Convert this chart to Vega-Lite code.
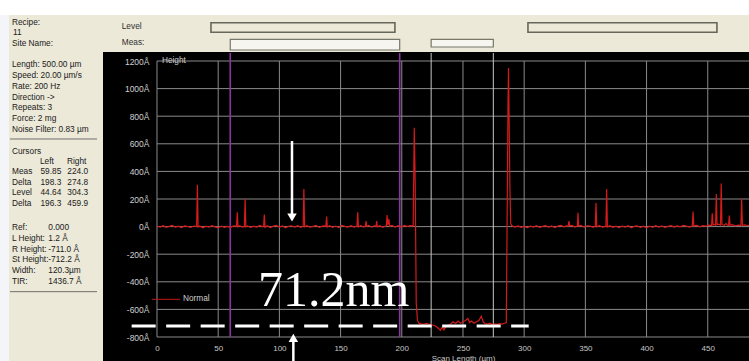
{
  "$schema": "https://vega.github.io/schema/vega-lite/v6.json",
  "background": "#000000",
  "padding": 0,
  "spacing": 0,
  "config": {"view": {"stroke": null}, "font": "Liberation Sans"},
  "datasets": {
    "panelText": [
      {"col": 3, "line": 0, "t": "Recipe:"},
      {"col": 4, "line": 1, "t": "11"},
      {"col": 3, "line": 2, "t": "Site Name:"},
      {"col": 3, "line": 4, "t": "Length: 500.00 µm"},
      {"col": 3, "line": 5, "t": "Speed: 20.00 µm/s"},
      {"col": 3, "line": 6, "t": "Rate: 200 Hz"},
      {"col": 3, "line": 7, "t": "Direction ->"},
      {"col": 3, "line": 8, "t": "Repeats: 3"},
      {"col": 3, "line": 9, "t": "Force: 2 mg"},
      {"col": 3, "line": 10, "t": "Noise Filter: 0.83 µm"},
      {"col": 3, "line": 12.05, "t": "Cursors"},
      {"col": 31, "line": 13.05, "t": "Left"},
      {"col": 58, "line": 13.05, "t": "Right"},
      {"col": 3, "line": 13.95, "t": "Meas"},
      {"col": 31.5, "line": 13.95, "t": "59.85"},
      {"col": 58.3, "line": 13.95, "t": "224.0"},
      {"col": 3, "line": 14.95, "t": "Delta"},
      {"col": 31.5, "line": 14.95, "t": "198.3"},
      {"col": 58.3, "line": 14.95, "t": "274.8"},
      {"col": 3, "line": 15.95, "t": "Level"},
      {"col": 31.5, "line": 15.95, "t": "44.64"},
      {"col": 58.3, "line": 15.95, "t": "304.3"},
      {"col": 3, "line": 16.95, "t": "Delta"},
      {"col": 31.5, "line": 16.95, "t": "196.3"},
      {"col": 58.3, "line": 16.95, "t": "459.9"},
      {"col": 3, "line": 19.2, "t": "Ref:"},
      {"col": 39.3, "line": 19.2, "t": "0.000"},
      {"col": 3, "line": 20.2, "t": "L Height:"},
      {"col": 39.3, "line": 20.2, "t": "1.2 Å"},
      {"col": 3, "line": 21.2, "t": "R Height:"},
      {"col": 39.3, "line": 21.2, "t": "-711.0 Å"},
      {"col": 3, "line": 22.2, "t": "St Height:"},
      {"col": 39.3, "line": 22.2, "t": "-712.2 Å"},
      {"col": 3, "line": 23.2, "t": "Width:"},
      {"col": 39.3, "line": 23.2, "t": "120.3µm"},
      {"col": 3, "line": 24.2, "t": "TIR:"},
      {"col": 39.3, "line": 24.2, "t": "1436.7 Å"}
    ],
    "panelRules": [
      {"col": 1, "col2": 88, "line": 10.87},
      {"col": 1, "col2": 88, "line": 25.14}
    ],
    "levelBoxes": [
      {"x": 44.1, "x2": 194.4, "y": 0.74, "y2": 1.321},
      {"x": 303.1, "x2": 457.5, "y": 0.74, "y2": 1.321}
    ],
    "measBoxes": [
      {"x": 59.85, "x2": 198.3, "y": 1.746, "y2": 2.394},
      {"x": 224.0, "x2": 274.8, "y": 1.746, "y2": 2.212}
    ],
    "stripLabels": [
      {"x": -28.8, "y": 1.0, "t": "Level"},
      {"x": -28.8, "y": 1.95, "t": "Meas:"}
    ],
    "hgrid": [
      {"x": 0, "x2": 483.7, "y": -800},
      {"x": 0, "x2": 483.7, "y": -600},
      {"x": 0, "x2": 483.7, "y": -400},
      {"x": 0, "x2": 483.7, "y": -200},
      {"x": 0, "x2": 483.7, "y": 0},
      {"x": 0, "x2": 483.7, "y": 200},
      {"x": 0, "x2": 483.7, "y": 400},
      {"x": 0, "x2": 483.7, "y": 600},
      {"x": 0, "x2": 483.7, "y": 800},
      {"x": 0, "x2": 483.7, "y": 1000},
      {"x": 0, "x2": 483.7, "y": 1200}
    ],
    "vgrid": [
      {"x": 0, "y": -800, "y2": 1200},
      {"x": 50, "y": -800, "y2": 1200},
      {"x": 100, "y": -800, "y2": 1200},
      {"x": 150, "y": -800, "y2": 1200},
      {"x": 200, "y": -800, "y2": 1200},
      {"x": 250, "y": -800, "y2": 1200},
      {"x": 300, "y": -800, "y2": 1200},
      {"x": 350, "y": -800, "y2": 1200},
      {"x": 400, "y": -800, "y2": 1200},
      {"x": 450, "y": -800, "y2": 1200}
    ],
    "levelCursors": [
      {"x": 224.0, "y": -800, "y2": 1258},
      {"x": 274.8, "y": -800, "y2": 1258}
    ],
    "measCursors": [
      {"x": 59.85, "y": -800, "y2": 1258},
      {"x": 198.3, "y": -800, "y2": 1258}
    ],
    "profile": [
      {"x": 0, "y": 4}, {"x": 2.5, "y": -3}, {"x": 5, "y": 6}, {"x": 7.5, "y": -5}, {"x": 10, "y": 2},
      {"x": 12.5, "y": 8}, {"x": 15, "y": -4}, {"x": 17.5, "y": 3}, {"x": 20, "y": -7}, {"x": 22.5, "y": 5},
      {"x": 25, "y": 1}, {"x": 27.5, "y": -6}, {"x": 30, "y": 4}, {"x": 32.4, "y": 2}, {"x": 33, "y": 303},
      {"x": 33.6, "y": -3}, {"x": 35, "y": 5}, {"x": 37.5, "y": -8}, {"x": 40, "y": 3}, {"x": 42.5, "y": -4},
      {"x": 45, "y": 7}, {"x": 47.5, "y": -2}, {"x": 50, "y": -9}, {"x": 52.5, "y": 4}, {"x": 55, "y": -5},
      {"x": 57.5, "y": 2}, {"x": 60, "y": -6}, {"x": 62.5, "y": 5}, {"x": 65, "y": 3}, {"x": 65.6, "y": 103},
      {"x": 66.2, "y": -2}, {"x": 67.5, "y": 6}, {"x": 70, "y": -4}, {"x": 71.4, "y": 2}, {"x": 72, "y": 200},
      {"x": 72.6, "y": -1}, {"x": 74, "y": 5}, {"x": 76.5, "y": -6}, {"x": 79, "y": 3}, {"x": 81.5, "y": -3},
      {"x": 84, "y": 8}, {"x": 86.5, "y": -2}, {"x": 87.1, "y": 4}, {"x": 87.7, "y": 87}, {"x": 88.3, "y": -5},
      {"x": 90, "y": 6}, {"x": 92.5, "y": -7}, {"x": 95, "y": 3}, {"x": 97.5, "y": 9}, {"x": 100, "y": -4},
      {"x": 102.5, "y": 5}, {"x": 105, "y": -8}, {"x": 107.5, "y": 2}, {"x": 110, "y": 6}, {"x": 112.5, "y": -3},
      {"x": 115, "y": 7}, {"x": 117.5, "y": -5}, {"x": 119.4, "y": 3}, {"x": 120, "y": 272}, {"x": 120.6, "y": -2},
      {"x": 122.5, "y": 6}, {"x": 125, "y": -4}, {"x": 127.5, "y": 2}, {"x": 130, "y": 8}, {"x": 132.5, "y": -6},
      {"x": 135, "y": 3}, {"x": 136.8, "y": 5}, {"x": 138.0, "y": 2}, {"x": 138.6, "y": 72}, {"x": 139.2, "y": -3},
      {"x": 141, "y": 6}, {"x": 143.5, "y": -5}, {"x": 146, "y": 4}, {"x": 148.5, "y": -7}, {"x": 151, "y": 9},
      {"x": 153.5, "y": 2}, {"x": 156, "y": -4}, {"x": 158.5, "y": 7}, {"x": 161, "y": -3}, {"x": 163.4, "y": 4},
      {"x": 164, "y": 103}, {"x": 164.6, "y": -2}, {"x": 166.5, "y": 6}, {"x": 169, "y": -3}, {"x": 170.3, "y": 5},
      {"x": 170.8, "y": 40}, {"x": 171.3, "y": 2}, {"x": 173, "y": 8}, {"x": 175.5, "y": -4}, {"x": 177.5, "y": 6},
      {"x": 179, "y": 3}, {"x": 179.5, "y": 40}, {"x": 180, "y": -2}, {"x": 182, "y": 7}, {"x": 184.5, "y": -5},
      {"x": 186.6, "y": 4}, {"x": 187.4, "y": 6}, {"x": 188, "y": 84}, {"x": 188.6, "y": 10}, {"x": 189.5, "y": 55},
      {"x": 190.1, "y": 3}, {"x": 192, "y": 9}, {"x": 194.5, "y": -3}, {"x": 197, "y": 6}, {"x": 199.5, "y": -4},
      {"x": 202, "y": 8}, {"x": 204.5, "y": 2}, {"x": 207, "y": 7}, {"x": 209.3, "y": 5}, {"x": 210.2, "y": 717},
      {"x": 211, "y": 300}, {"x": 211.8, "y": -550}, {"x": 212.8, "y": -680}, {"x": 214, "y": -700}, {"x": 216, "y": -705},
      {"x": 218, "y": -708}, {"x": 220, "y": -702}, {"x": 222, "y": -706}, {"x": 224, "y": -712}, {"x": 226, "y": -715},
      {"x": 228, "y": -722}, {"x": 230, "y": -738}, {"x": 231.5, "y": -752}, {"x": 233, "y": -730}, {"x": 234.5, "y": -748},
      {"x": 236, "y": -726}, {"x": 238, "y": -716}, {"x": 240, "y": -705}, {"x": 242, "y": -690}, {"x": 244, "y": -702},
      {"x": 246, "y": -684}, {"x": 248, "y": -700}, {"x": 250, "y": -690}, {"x": 252, "y": -681}, {"x": 254, "y": -666},
      {"x": 255.5, "y": -695}, {"x": 257, "y": -684}, {"x": 259, "y": -700}, {"x": 261, "y": -690}, {"x": 263, "y": -680},
      {"x": 265, "y": -650}, {"x": 266.5, "y": -690}, {"x": 268, "y": -702}, {"x": 270, "y": -706}, {"x": 272, "y": -700},
      {"x": 274, "y": -710}, {"x": 276, "y": -705}, {"x": 278, "y": -709}, {"x": 280, "y": -703}, {"x": 282, "y": -706},
      {"x": 284, "y": -700}, {"x": 285.4, "y": -696}, {"x": 286.2, "y": 200}, {"x": 286.8, "y": 890}, {"x": 287.2, "y": 1150},
      {"x": 287.8, "y": 700}, {"x": 288.3, "y": 310}, {"x": 289, "y": 20}, {"x": 290, "y": 6}, {"x": 292.5, "y": -4},
      {"x": 295, "y": 5}, {"x": 297.5, "y": -6}, {"x": 300, "y": 3}, {"x": 302.5, "y": -8}, {"x": 305, "y": 4},
      {"x": 307.5, "y": -3}, {"x": 310, "y": 6}, {"x": 312.5, "y": -5}, {"x": 315, "y": 2}, {"x": 317.5, "y": 7},
      {"x": 320, "y": -4}, {"x": 322.5, "y": 5}, {"x": 325, "y": -7}, {"x": 327.5, "y": 3}, {"x": 330, "y": 8},
      {"x": 332.5, "y": -2}, {"x": 334.5, "y": 5}, {"x": 336, "y": 4}, {"x": 336.6, "y": 40}, {"x": 337.2, "y": 6},
      {"x": 339, "y": 9}, {"x": 341.5, "y": -3}, {"x": 343.5, "y": 6}, {"x": 344, "y": 100}, {"x": 344.5, "y": 4},
      {"x": 346.5, "y": 8}, {"x": 349, "y": -4}, {"x": 351.5, "y": 6}, {"x": 354, "y": 3}, {"x": 356.5, "y": -5},
      {"x": 358.1, "y": 5}, {"x": 358.7, "y": 171}, {"x": 359.3, "y": -2}, {"x": 361.5, "y": 7}, {"x": 364, "y": -4},
      {"x": 366.8, "y": 3}, {"x": 367.4, "y": 272}, {"x": 368, "y": -3}, {"x": 370, "y": 6}, {"x": 372.5, "y": -5},
      {"x": 375, "y": 3}, {"x": 377.5, "y": -7}, {"x": 380, "y": 4}, {"x": 382.5, "y": -3}, {"x": 385, "y": 6},
      {"x": 387.5, "y": -8}, {"x": 390, "y": 2}, {"x": 392.5, "y": 5}, {"x": 395, "y": -6}, {"x": 397.5, "y": 3},
      {"x": 400, "y": -9}, {"x": 402.5, "y": 4}, {"x": 405, "y": -5}, {"x": 407.5, "y": 6}, {"x": 410, "y": -3},
      {"x": 412.5, "y": 5}, {"x": 415, "y": -6}, {"x": 417.5, "y": 2}, {"x": 420, "y": 7}, {"x": 422.5, "y": -4},
      {"x": 425, "y": 5}, {"x": 427.5, "y": -2}, {"x": 430, "y": 8}, {"x": 432.5, "y": 4}, {"x": 435, "y": -3},
      {"x": 437.4, "y": 6}, {"x": 438, "y": 110}, {"x": 438.6, "y": 5}, {"x": 441, "y": 9}, {"x": 443.5, "y": -2},
      {"x": 446, "y": 7}, {"x": 448.5, "y": 4}, {"x": 451, "y": 10}, {"x": 453.1, "y": 8}, {"x": 453.7, "y": 96},
      {"x": 454.3, "y": 12}, {"x": 455.5, "y": 15}, {"x": 456.4, "y": 10}, {"x": 457, "y": 236}, {"x": 457.6, "y": 14},
      {"x": 459, "y": 18}, {"x": 460.4, "y": 12}, {"x": 461, "y": 313}, {"x": 461.6, "y": 15}, {"x": 463.5, "y": 10},
      {"x": 465, "y": 22}, {"x": 466, "y": 12}, {"x": 467, "y": 8}, {"x": 467.6, "y": 80}, {"x": 468.2, "y": 10},
      {"x": 470, "y": 14}, {"x": 472.5, "y": 6}, {"x": 475, "y": 10}, {"x": 477.1, "y": 8}, {"x": 477.7, "y": 200},
      {"x": 478.3, "y": 9}, {"x": 480, "y": 12}, {"x": 482.5, "y": 8}, {"x": 484, "y": 10}
    ],
    "legendLine": [{"x": -4.1, "x2": 18.8, "y": -527}],
    "smallText": [
      {"x": 21.2, "y": -527, "t": "Normal"},
      {"x": 4, "y": 1200, "t": "Height"}
    ],
    "dashed": [{"x": -20.7, "x2": 303.7, "y": -720.3}],
    "arrowShafts": [
      {"x": 110.3, "y": 620, "y2": 91},
      {"x": 111.4, "y": -814, "y2": -985}
    ],
    "arrowHeads": [
      {"x": 110.3, "y": 66, "s": "triangle-down"},
      {"x": 111.4, "y": -807, "s": "triangle-up"}
    ],
    "bigText": [{"x": 82.5, "y": -575.4, "t": "71.2nm"}]
  },
  "vconcat": [
    {
      "width": 749, "height": 15,
      "view": {"fill": "#ffffff"},
      "data": {"values": [{}]},
      "mark": {"type": "text", "text": ""},
      "encoding": {}
    },
    {
      "spacing": 0,
      "hconcat": [
        {
          "width": 9, "height": 346,
          "view": {"fill": "#f3f5f8"},
          "data": {"values": [{}]},
          "mark": {"type": "text", "text": ""},
          "encoding": {}
        },
        {
          "width": 94, "height": 346,
          "view": {"fill": "#ece9d8"},
          "encoding": {
            "x": {"field": "col", "type": "quantitative", "scale": {"domain": [0, 94], "nice": false, "zero": false}, "axis": null},
            "y": {"field": "line", "type": "quantitative", "scale": {"domain": [-0.72, 31.62], "nice": false, "zero": false, "reverse": true}, "axis": null}
          },
          "layer": [
            {
              "data": {"name": "panelText"},
              "mark": {"type": "text", "align": "left", "baseline": "middle", "fontSize": 8.3, "color": "#202020", "font": "Liberation Sans"},
              "encoding": {"text": {"field": "t", "type": "nominal"}}
            },
            {
              "data": {"name": "panelRules"},
              "mark": {"type": "rule", "color": "#707070", "strokeWidth": 1},
              "encoding": {"x2": {"field": "col2"}}
            }
          ]
        },
        {
          "spacing": 0,
          "vconcat": [
            {
              "width": 646, "height": 37,
              "view": {"fill": "#ece9d8"},
              "encoding": {
                "x": {"field": "x", "type": "quantitative", "scale": {"domain": [-44.12, 483.7], "nice": false, "zero": false}, "axis": null},
                "y": {"field": "y", "type": "quantitative", "scale": {"domain": [0.273, 2.515], "nice": false, "zero": false, "reverse": true}, "axis": null}
              },
              "layer": [
                {
                  "data": {"name": "levelBoxes"},
                  "mark": {"type": "rect", "fill": "#ece9d8", "stroke": "#66665a", "strokeWidth": 1.6},
                  "encoding": {"x2": {"field": "x2"}, "y2": {"field": "y2"}}
                },
                {
                  "data": {"name": "measBoxes"},
                  "mark": {"type": "rect", "fill": "#f6f5ef", "stroke": "#77776a", "strokeWidth": 1.2},
                  "encoding": {"x2": {"field": "x2"}, "y2": {"field": "y2"}}
                },
                {
                  "data": {"name": "stripLabels"},
                  "mark": {"type": "text", "align": "left", "baseline": "middle", "fontSize": 8.3, "color": "#303030", "font": "Liberation Sans"},
                  "encoding": {"text": {"field": "t", "type": "nominal"}}
                }
              ]
            },
            {
              "width": 646, "height": 284,
              "view": {"fill": "#000000"},
              "encoding": {
                "x": {
                  "field": "x", "type": "quantitative",
                  "scale": {"domain": [-44.12, 483.7], "nice": false, "zero": false},
                  "axis": {
                    "values": [0, 50, 100, 150, 200, 250, 300, 350, 400, 450],
                    "domain": false, "ticks": false, "tickSize": 0, "grid": false, "labelFlush": false,
                    "labelColor": "#c8c8c8", "labelFontSize": 8, "labelFont": "Liberation Sans", "labelPadding": 7,
                    "title": "Scan Length (µm)", "titleColor": "#c8c8c8", "titleFontSize": 8, "titleFontWeight": "normal",
                    "titleFont": "Liberation Sans", "titleX": 360, "titleY": 21, "titleAlign": "center", "titleBaseline": "middle"
                  }
                },
                "y": {
                  "field": "y", "type": "quantitative",
                  "scale": {"domain": [-800, 1258], "nice": false, "zero": false},
                  "axis": {
                    "values": [-800, -600, -400, -200, 0, 200, 400, 600, 800, 1000, 1200],
                    "labelExpr": "datum.value + 'Å'",
                    "offset": -54, "domain": false, "ticks": false, "tickSize": 0, "grid": false,
                    "labelColor": "#d0d0d0", "labelFontSize": 8.5, "labelFont": "Liberation Sans", "labelPadding": 8,
                    "title": null
                  }
                }
              },
              "layer": [
                {
                  "data": {"name": "hgrid"},
                  "mark": {"type": "rule", "color": "#8a8a8a", "strokeWidth": 1},
                  "encoding": {"x2": {"field": "x2"}}
                },
                {
                  "data": {"name": "vgrid"},
                  "mark": {"type": "rule", "color": "#8a8a8a", "strokeWidth": 1},
                  "encoding": {"y2": {"field": "y2"}}
                },
                {
                  "data": {"name": "levelCursors"},
                  "mark": {"type": "rule", "color": "#c8c8c8", "strokeWidth": 1},
                  "encoding": {"y2": {"field": "y2"}}
                },
                {
                  "data": {"name": "measCursors"},
                  "mark": {"type": "rule", "color": "#8a35a0", "strokeWidth": 1.6},
                  "encoding": {"y2": {"field": "y2"}}
                },
                {
                  "data": {"name": "profile"},
                  "mark": {"type": "line", "color": "#d41a1a", "strokeWidth": 1.2, "clip": true},
                  "encoding": {}
                },
                {
                  "data": {"name": "legendLine"},
                  "mark": {"type": "rule", "color": "#c01818", "strokeWidth": 1},
                  "encoding": {"x2": {"field": "x2"}}
                },
                {
                  "data": {"name": "smallText"},
                  "mark": {"type": "text", "align": "left", "baseline": "middle", "fontSize": 8.3, "color": "#cfcfcf", "font": "Liberation Sans"},
                  "encoding": {"text": {"field": "t", "type": "nominal"}}
                },
                {
                  "data": {"name": "dashed"},
                  "mark": {"type": "rule", "color": "#ffffff", "strokeWidth": 3, "strokeDash": [24, 10.5]},
                  "encoding": {"x2": {"field": "x2"}}
                },
                {
                  "data": {"name": "arrowShafts"},
                  "mark": {"type": "rule", "color": "#ffffff", "strokeWidth": 2.5},
                  "encoding": {"y2": {"field": "y2"}}
                },
                {
                  "data": {"name": "arrowHeads"},
                  "mark": {"type": "point", "filled": true, "color": "#ffffff", "opacity": 1, "size": 90},
                  "encoding": {"shape": {"field": "s", "type": "nominal", "scale": null}}
                },
                {
                  "data": {"name": "bigText"},
                  "mark": {"type": "text", "align": "left", "baseline": "alphabetic", "fontSize": 50, "color": "#ffffff", "font": "Liberation Serif"},
                  "encoding": {"text": {"field": "t", "type": "nominal"}}
                }
              ]
            }
          ]
        }
      ]
    }
  ]
}
